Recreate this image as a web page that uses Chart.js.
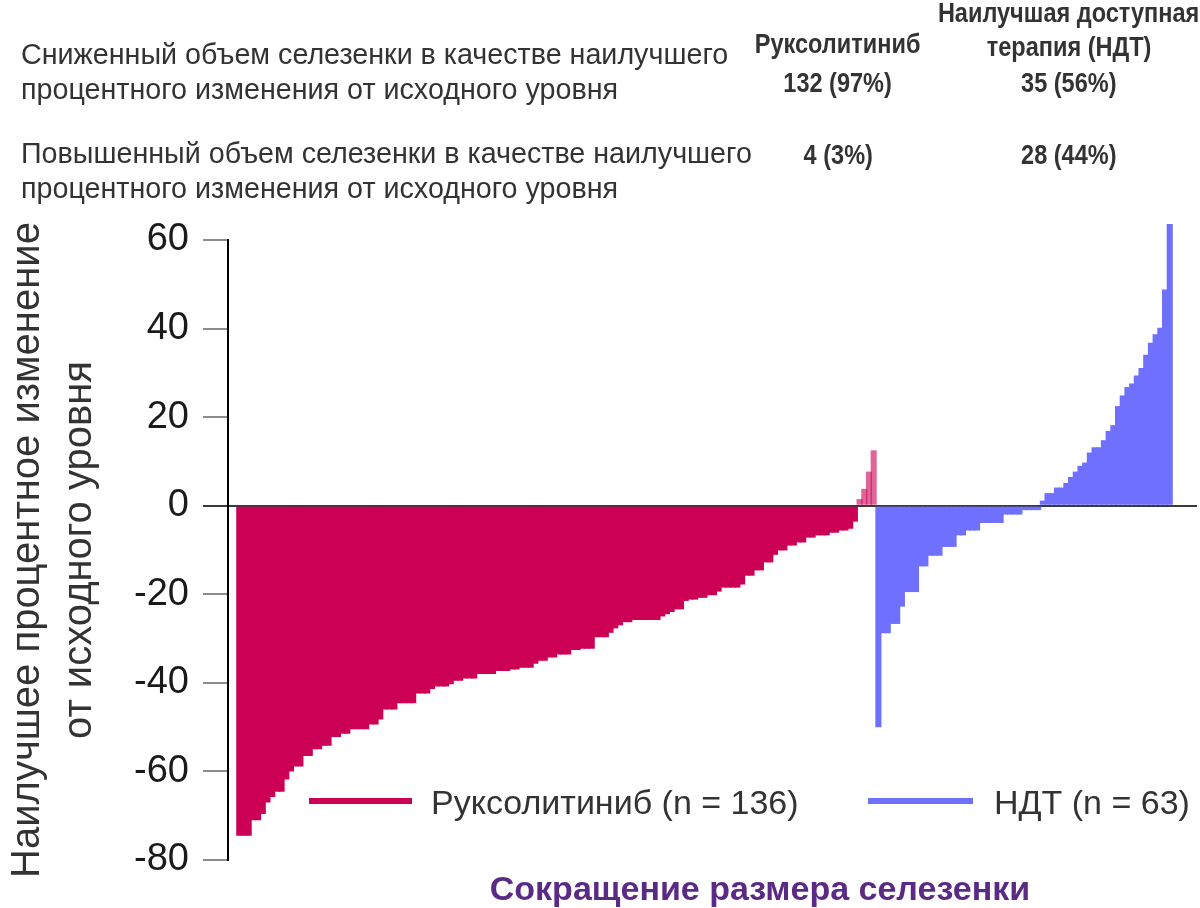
<!DOCTYPE html>
<html lang="ru">
<head>
<meta charset="utf-8">
<title>Waterfall</title>
<script src="https://cdn.jsdelivr.net/npm/chart.js@4.4.1/dist/chart.umd.min.js"></script>
<style>
  body { margin: 0; background: #fff; font-family: Arial, "Liberation Sans", sans-serif; color: #333; }
  #page { position: relative; width: 1200px; height: 908px; overflow: hidden; }
  #chart { position: absolute; left: 0; top: 0; }
  .row { position: absolute; left: 21px; font-size: 28.7px; line-height: 35px; white-space: nowrap; }
  .col { position: absolute; width: 320px; text-align: center; font-size: 28px; line-height: 34px; font-weight: bold; white-space: nowrap; }
  .col span { display: inline-block; transform: scaleX(0.84); }
  .leg-line { position: absolute; height: 6px; top: 798px; }
  .leg-text { position: absolute; top: 781px; font-size: 34px; line-height: 42px; white-space: nowrap; color: #333; }
  #xtitle { position: absolute; left: 460px; width: 600px; top: 867px; text-align: center; font-size: 34px; line-height: 42px; font-weight: bold; color: #5b2a84; }
</style>
</head>
<body>
<div id="page">
  <canvas id="chart" width="1200" height="908"></canvas>
  <div class="row" style="top:37px">Сниженный объем селезенки в качестве наилучшего<br>процентного изменения от исходного уровня</div>
  <div class="row" style="top:136px">Повышенный объем селезенки в качестве наилучшего<br>процентного изменения от исходного уровня</div>
  <div id="cols"></div>
  <div class="leg-line" style="left:309px;width:103px;background:#cc0055"></div>
  <div class="leg-text" id="leg0" style="left:431px"></div>
  <div class="leg-line" style="left:868px;width:105px;background:#7070ff"></div>
  <div class="leg-text" id="leg1" style="left:994px"></div>
  <div id="xtitle">Сокращение размера селезенки</div>
</div>
<script>
// best % change from baseline in spleen volume, sorted per arm
const ruxChange = [
  -74.5, -74.5, -74.5, -71, -71, -69.6, -67, -65.8, -64.6, -64.6,
  -61.8, -60, -58.9, -58.9, -56.5, -56.5, -55, -55, -54.2, -54.2,
  -52.2, -52.2, -51.5, -51.5, -50.5, -50.5, -50.5, -50.5, -49.4, -49.4,
  -48.3, -46, -46, -46, -44.6, -44.6, -44.6, -44.6, -42.4, -42.4,
  -42.4, -41.4, -40.8, -40.8, -40.8, -40.3, -39.5, -39.5, -39, -39,
  -39, -38, -38, -38, -38, -37.3, -37.3, -37.3, -37, -37,
  -36.6, -36.6, -36.6, -35.7, -35, -35, -34.3, -34.3, -33.6, -33.6,
  -33.6, -32.6, -32.6, -32.3, -32.3, -32.3, -29.7, -29.7, -29.7, -28.7,
  -27.7, -27, -26.3, -26.3, -25.8, -25.8, -25.8, -25.8, -25.8, -25.8,
  -25, -24.5, -24, -23.4, -23.4, -21.5, -21.2, -21.2, -20.8, -20.8,
  -20.2, -20.2, -19.4, -18.5, -18.5, -18.5, -18.5, -17.8, -15.8, -15.8,
  -14.6, -14.6, -12.8, -12.8, -11.1, -10.1, -10.1, -9, -9, -8.3,
  -8.3, -7.2, -7.2, -6.7, -6.7, -6.7, -6.1, -6.1, -5.6, -5.6,
  -5.2, -3.6, 1.5, 3.8, 7.7, 12.5
];
const batChange = [
  -50, -28.8, -28.8, -26.7, -26.7, -22.8, -19.5, -19.5, -19.5, -13.7,
  -13.7, -11.3, -11.3, -11.3, -9.3, -9.3, -9.3, -6.7, -6.7, -5.6,
  -5.6, -5.6, -3.9, -3.9, -3.9, -3.9, -3.9, -2, -2, -2,
  -2, -1, -1, -1, -1, 1.15, 2.85, 2.85, 4.1, 4.1,
  5.15, 6.5, 7.7, 9, 9.75, 12, 13.2, 13.2, 14.8, 16.9,
  18.2, 22.5, 24.9, 26.8, 27.6, 29.4, 31.1, 34.1, 36.8, 38.7,
  40.2, 48.8, 63.6
];
const yTicks = [60, 40, 20, 0, -20, -40, -60, -80];
const seriesLabels = ['Руксолитиниб (n = 136)', 'НДТ (n = 63)'];
const armNames = [['Руксолитиниб'], ['Наилучшая доступная', 'терапия (НДТ)']];
const decreased = ['132 (97%)', '35 (56%)'];
const increased = ['4 (3%)', '28 (44%)'];
const yTitle = ['Наилучшее процентное изменение', 'от исходного уровня'];

const RUX = '#cc0055';
const BAT = '#7070ff';

// header columns
const colCenters = [838, 1069];
const cols = document.getElementById('cols');
function addCol(text, cx, cy) {
  const d = document.createElement('div');
  d.className = 'col';
  d.style.left = (cx - 160) + 'px';
  d.style.top = (cy - 17) + 'px';
  const s = document.createElement('span');
  s.textContent = text;
  d.appendChild(s);
  cols.appendChild(d);
}
addCol(armNames[0][0], colCenters[0], 44);
addCol(armNames[1][0], colCenters[1], 13);
addCol(armNames[1][1], colCenters[1], 47);
addCol(decreased[0], colCenters[0], 83);
addCol(decreased[1], colCenters[1], 83);
addCol(increased[0], colCenters[0], 155);
addCol(increased[1], colCenters[1], 155);
document.getElementById('leg0').textContent = seriesLabels[0];
document.getElementById('leg1').textContent = seriesLabels[1];

const ruxPoints = ruxChange.map((v, i) => ({ x: i, y: v }));
const batPoints = batChange.map((v, i) => ({ x: ruxChange.length + i, y: v }));

const ctx = document.getElementById('chart').getContext('2d');
new Chart(ctx, {
  type: 'bar',
  data: {
    datasets: [
      {
        label: seriesLabels[0],
        data: ruxPoints,
        backgroundColor: c => (c.raw && c.raw.y > 0 ? 'rgba(204,0,85,0.6)' : RUX),
        clip: false
      },
      {
        label: seriesLabels[1],
        data: batPoints,
        backgroundColor: BAT,
        clip: false
      }
    ]
  },
  options: {
    responsive: false,
    animation: false,
    grouped: false,
    barPercentage: 1.3,
    categoryPercentage: 1,
    layout: { padding: { top: 240, bottom: 48, right: 3, left: 0 } },
    plugins: { legend: { display: false }, tooltip: { enabled: false } },
    scales: {
      x: {
        type: 'linear',
        offset: false,
        min: -2.4,
        max: 203.8,
        display: false
      },
      y: {
        min: -80,
        max: 60,
        afterFit: s => { s.width = 228; },
        afterBuildTicks: s => { s.ticks = yTicks.map(v => ({ value: v })); },
        border: { display: true, color: '#000', width: 2 },
        grid: {
          color: c => (c.tick && c.tick.value === 0 ? '#3a3a3a' : 'rgba(0,0,0,0)'),
          tickColor: c => (c.tick && c.tick.value === 0 ? '#3a3a3a' : '#8c8c8c'),
          lineWidth: 2,
          tickLength: 25
        },
        ticks: {
          autoSkip: false,
          padding: 14,
          color: '#1a1a1a',
          font: { family: 'Arial, "Liberation Sans", sans-serif', size: 38 }
        },
        title: {
          display: true,
          text: yTitle,
          color: '#333',
          padding: { top: 2, bottom: 0 },
          font: { family: 'Arial, "Liberation Sans", sans-serif', size: 40, lineHeight: '52px' }
        }
      }
    }
  }
});
</script>
</body>
</html>
